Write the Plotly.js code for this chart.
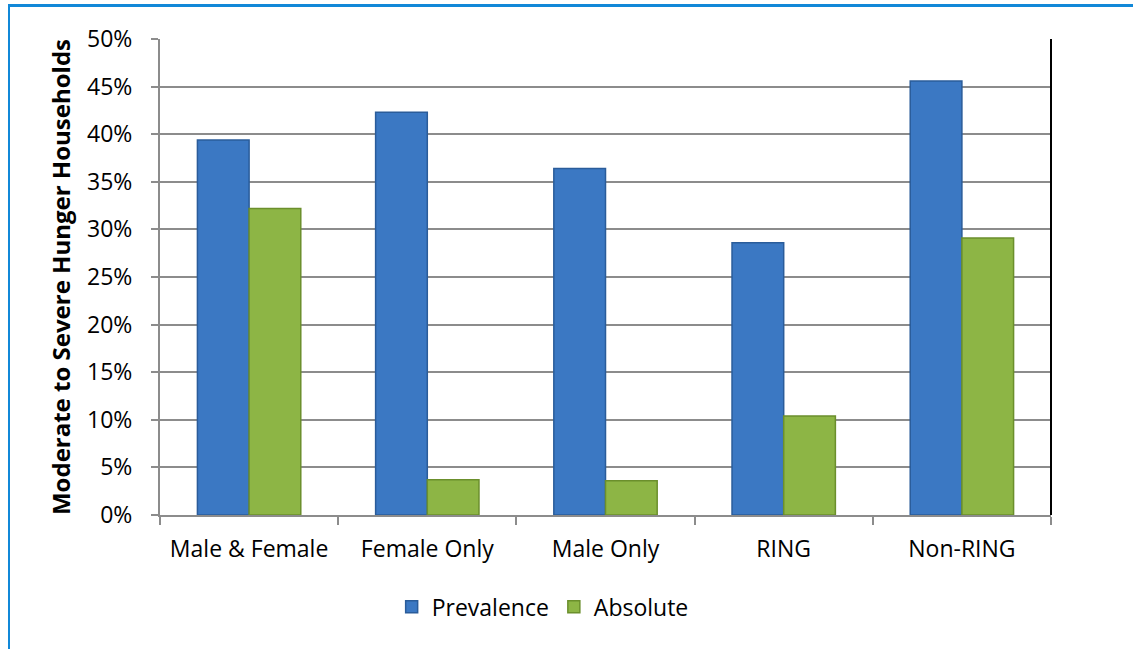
<!DOCTYPE html>
<html>
<head>
<meta charset="utf-8">
<script src="https://cdn.plot.ly/plotly-3.0.1.min.js"></script>
<style>
  html, body { margin: 0; padding: 0; background: #fff; }
  #frame { position: absolute; left: 8px; top: 4px; width: 1125px; height: 645px;
           border-left: 2px solid #1188d8; border-top: 3px solid #1188d8; box-sizing: border-box; }
  #chart { position: absolute; left: 0; top: 0; width: 1133px; height: 649px; }
</style>
</head>
<body>
<div id="frame"></div>
<div id="chart"></div>
<script>
const categories = ["Male & Female", "Female Only", "Male Only", "RING", "Non-RING"];
const prevalence = [0.394, 0.423, 0.364, 0.286, 0.456];
const absolute = [0.322, 0.037, 0.036, 0.104, 0.291];
const seriesNames = ["Prevalence", "Absolute"];
const yTicks = [0, 0.05, 0.10, 0.15, 0.20, 0.25, 0.30, 0.35, 0.40, 0.45, 0.50];

const font = "'Open Sans', 'Noto Sans', sans-serif";

const data = [
  { type: "bar", name: seriesNames[0], x: categories, y: prevalence,
    marker: { color: "#3b78c3", line: { color: "#2a5c9a", width: 1.5 } } },
  { type: "bar", name: seriesNames[1], x: categories, y: absolute,
    marker: { color: "#8db545", line: { color: "#6b8f2c", width: 1.5 } } }
];

const layout = {
  width: 1133, height: 649,
  margin: { l: 160, r: 82, t: 39, b: 134 },
  paper_bgcolor: "rgba(0,0,0,0)",
  plot_bgcolor: "#ffffff",
  font: { family: font, color: "#000", size: 23 },
  barmode: "group",
  bargap: 0.42,
  bargroupgap: 0,
  showlegend: true,
  legend: { orientation: "h", x: 0.26, xanchor: "left", y: -0.193, yanchor: "middle",
            font: { size: 23, family: font }, itemwidth: 30, tracegroupgap: 0 },
  xaxis: {
    type: "category",
    showline: true, linecolor: "#8c8c8c", linewidth: 2,
    ticks: "outside", ticklen: 8, tickwidth: 2, tickcolor: "#8c8c8c",
    tickson: "boundaries",
    ticklabelstandoff: 12,
    tickfont: { size: 23, family: font },
    showgrid: false, zeroline: false
  },
  yaxis: {
    range: [0, 0.5],
    tickvals: yTicks,
    tickformat: ".0%",
    showline: true, linecolor: "#8c8c8c", linewidth: 2,
    ticks: "outside", ticklen: 7, tickwidth: 2, tickcolor: "#8c8c8c",
    ticklabelstandoff: 14,
    showgrid: true, gridcolor: "#8c8c8c", gridwidth: 2,
    zeroline: false,
    tickfont: { size: 23, family: font },
    title: { text: "Moderate to Severe Hunger Households", font: { size: 24, family: font, weight: "bold" }, standoff: 10 }
  },
  shapes: [
    { type: "line", xref: "paper", yref: "paper", x0: 1, x1: 1, y0: 0, y1: 1,
      line: { color: "#000", width: 2 } }
  ]
};

Plotly.newPlot("chart", data, layout, { displayModeBar: false, staticPlot: true });
</script>
</body>
</html>
